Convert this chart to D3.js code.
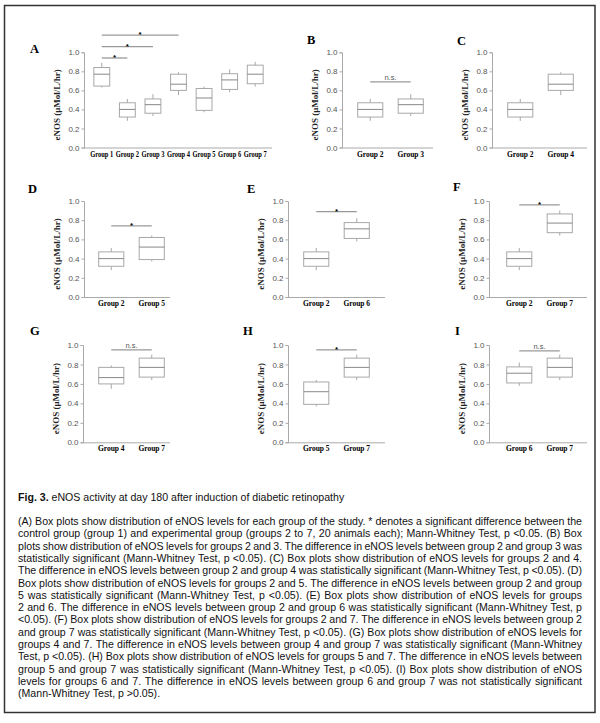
<!DOCTYPE html>
<html>
<head>
<meta charset="utf-8">
<script src="https://cdn.jsdelivr.net/npm/d3@7"></script>
<style>
  body { margin: 0; background: #fff; }
</style>
</head>
<body>
<script>

// box statistics per group
const groups      = ["Group 1", "Group 2", "Group 3", "Group 4", "Group 5", "Group 6", "Group 7"]
const whiskerLow  = [0.63, 0.28, 0.33, 0.55, 0.37, 0.58, 0.64]
const q1          = [0.645, 0.32, 0.36, 0.60, 0.39, 0.61, 0.67]
const medians     = [0.77, 0.40, 0.45, 0.665, 0.52, 0.71, 0.77]
const q3          = [0.84, 0.47, 0.51, 0.77, 0.62, 0.775, 0.865]
const whiskerHigh = [0.89, 0.51, 0.56, 0.79, 0.64, 0.82, 0.90]

const yTicks = [0, 0.2, 0.4, 0.6, 0.8, 1.0]
const yTitle = "eNOS (µMol/L/hr)"

const panelLetters = ["A", "B", "C", "D", "E", "F", "G", "H", "I"]
const panelGroups = [
    groups,
    ["Group 2", "Group 3"],
    ["Group 2", "Group 4"],
    ["Group 2", "Group 5"],
    ["Group 2", "Group 6"],
    ["Group 2", "Group 7"],
    ["Group 4", "Group 7"],
    ["Group 5", "Group 7"],
    ["Group 6", "Group 7"]
]
// [from, to, level, mark]
const panelTests = [
    [["Group 1", "Group 2", 0.94, "*"], ["Group 1", "Group 3", 1.06, "*"], ["Group 1", "Group 4", 1.18, "*"]],
    [["Group 2", "Group 3", 0.69, "n.s."]],
    [],
    [["Group 2", "Group 5", 0.74, "*"]],
    [["Group 2", "Group 6", 0.89, "*"]],
    [["Group 2", "Group 7", 0.96, "*"]],
    [["Group 4", "Group 7", 0.95, "n.s."]],
    [["Group 5", "Group 7", 0.95, "*"]],
    [["Group 6", "Group 7", 0.94, "n.s."]]
]

const captionTitle = ["Fig. 3.", " eNOS activity at day 180 after induction of diabetic retinopathy"]
const captionLines = [
    "(A) Box plots show distribution of eNOS levels for each group of the study. * denotes a significant difference between the",
    "control group (group 1) and experimental group (groups 2 to 7, 20 animals each); Mann-Whitney Test, p <0.05. (B) Box",
    "plots show distribution of eNOS levels for groups 2 and 3. The difference in eNOS levels between group 2 and group 3 was",
    "statistically significant (Mann-Whitney Test, p <0.05). (C) Box plots show distribution of eNOS levels for groups 2 and 4.",
    "The difference in eNOS levels between group 2 and group 4 was statistically significant (Mann-Whitney Test, p <0.05). (D)",
    "Box plots show distribution of eNOS levels for groups 2 and 5. The difference in eNOS levels between group 2 and group",
    "5 was statistically significant (Mann-Whitney Test, p <0.05).  (E) Box plots show distribution of eNOS levels for groups",
    "2 and 6. The difference in eNOS levels between group 2 and group 6 was statistically significant (Mann-Whitney Test, p",
    "<0.05). (F) Box plots show distribution of eNOS levels for groups 2 and 7. The difference in eNOS levels between group 2",
    "and group 7 was statistically significant (Mann-Whitney Test, p <0.05). (G) Box plots show distribution of eNOS levels for",
    "groups 4 and 7. The difference in eNOS levels between group 4 and group 7 was statistically significant (Mann-Whitney",
    "Test, p <0.05). (H) Box plots show distribution of eNOS levels for groups 5 and 7. The difference in eNOS levels between",
    "group 5 and group 7 was statistically significant (Mann-Whitney Test, p <0.05). (I) Box plots show distribution of eNOS",
    "levels for groups 6 and 7. The difference in eNOS levels between group 6 and group 7 was not statistically significant",
    "(Mann-Whitney Test, p >0.05)."
]

// layout of the nine panels
const rows = [
    { top: 52.3, bottom: 147.5 },
    { top: 201, bottom: 297 },
    { top: 345, bottom: 442.3 }
]
const layout = [
    { row: 0, axis: 84,  band: [89, 268],  end: 272, lx: 30,  ly: 52.7 },
    { row: 0, axis: 342, band: [350, 431], end: 433, lx: 307, ly: 44 },
    { row: 0, axis: 492, band: [500, 581], end: 587, lx: 457, ly: 45 },
    { row: 1, axis: 84,  band: [91, 172],  end: 170, lx: 28,  ly: 193 },
    { row: 1, axis: 288, band: [296, 377], end: 385, lx: 247, ly: 193 },
    { row: 1, axis: 489, band: [499, 580], end: 587, lx: 453, ly: 191 },
    { row: 2, axis: 83,  band: [91, 172],  end: 170, lx: 30,  ly: 335 },
    { row: 2, axis: 288, band: [296, 377], end: 385, lx: 243, ly: 335 },
    { row: 2, axis: 489, band: [499, 580], end: 587, lx: 455, ly: 335 }
]

const W = 600, H = 723
const serif = "'Liberation Serif', 'Times New Roman', serif"
const sans = "'Liberation Sans', Arial, sans-serif"

const svg = d3.select("body").append("svg")
    .attr("width", W)
    .attr("height", H)

// frame
svg.append("rect")
    .attr("x", 4.5).attr("y", 5.5)
    .attr("width", 590.5).attr("height", 707)
    .attr("fill", "none")
    .attr("stroke", "#333")
    .attr("stroke-width", 1.5)

panelLetters.forEach(function(letter, i) {
    const L = layout[i]
    const r = rows[L.row]
    const g = svg.append("g")

    const y = d3.scaleLinear().domain([0, 1]).range([r.bottom, r.top])
    const x = d3.scaleBand().domain(panelGroups[i]).range(L.band)
    const bw = x.bandwidth() * 0.62
    const crowded = panelGroups[i].length > 2

    // panel letter
    g.append("text")
        .attr("x", L.lx).attr("y", L.ly)
        .attr("font-family", serif)
        .attr("font-weight", "bold")
        .attr("font-size", 12.5)
        .text(letter)

    // y axis
    const yAxis = g.append("g")
        .attr("transform", `translate(${L.axis},0)`)
        .call(d3.axisLeft(y).tickValues(yTicks).tickFormat(d3.format(".1f")).tickSize(2.5).tickPadding(2))
    yAxis.select(".domain").attr("stroke", "#aaa")
    yAxis.selectAll(".tick line").attr("stroke", "#aaa")
    yAxis.selectAll(".tick text")
        .attr("font-family", sans)
        .attr("font-size", 8)
        .attr("fill", "#555")

    // x axis line
    g.append("line")
        .attr("x1", L.axis).attr("x2", L.end)
        .attr("y1", r.bottom + 0.5).attr("y2", r.bottom + 0.5)
        .attr("stroke", "#aaa")

    // group labels
    const glab = g.selectAll(".glab")
        .data(panelGroups[i])
        .enter()
        .append("text")
            .attr("x", d => x(d) + x.bandwidth() / 2)
            .attr("y", r.bottom + 9)
            .attr("text-anchor", "middle")
            .attr("font-family", serif)
            .attr("font-weight", "bold")
            .attr("font-size", crowded ? 7.2 : 7.5)
            .text(d => d)
    if (crowded) {
        glab.attr("textLength", x.bandwidth() - 2.5)
            .attr("lengthAdjust", "spacingAndGlyphs")
    }

    // y title
    g.append("text")
        .attr("transform", `translate(${L.axis - 24},${(r.top + r.bottom) / 2 + 5}) rotate(-90)`)
        .attr("text-anchor", "middle")
        .attr("font-family", serif)
        .attr("font-weight", "bold")
        .attr("font-size", 9)
        .attr("fill", "#222")
        .text(yTitle)

    // boxes
    const boxes = g.selectAll(".box")
        .data(panelGroups[i])
        .enter()
        .append("g")
    boxes.append("line")
        .attr("x1", d => x(d) + x.bandwidth() / 2)
        .attr("x2", d => x(d) + x.bandwidth() / 2)
        .attr("y1", d => y(whiskerHigh[groups.indexOf(d)]))
        .attr("y2", d => y(whiskerLow[groups.indexOf(d)]))
        .attr("stroke", "#a8a8a8")
    boxes.append("rect")
        .attr("x", d => x(d) + (x.bandwidth() - bw) / 2)
        .attr("width", bw)
        .attr("y", d => y(q3[groups.indexOf(d)]))
        .attr("height", d => y(q1[groups.indexOf(d)]) - y(q3[groups.indexOf(d)]))
        .attr("fill", "#fff")
        .attr("stroke", "#a8a8a8")
    boxes.append("line")
        .attr("x1", d => x(d) + (x.bandwidth() - bw) / 2)
        .attr("x2", d => x(d) + (x.bandwidth() + bw) / 2)
        .attr("y1", d => y(medians[groups.indexOf(d)]))
        .attr("y2", d => y(medians[groups.indexOf(d)]))
        .attr("stroke", "#888")

    // significance bars
    panelTests[i].forEach(function(t) {
        const x1 = x(t[0]) + x.bandwidth() / 2
        const x2 = x(t[1]) + x.bandwidth() / 2
        g.append("line")
            .attr("x1", x1).attr("x2", x2)
            .attr("y1", y(t[2])).attr("y2", y(t[2]))
            .attr("stroke", "#999")
            .attr("stroke-width", 1.3)
        if (t[3] === "*") {
            g.append("text")
                .attr("x", (x1 + x2) / 2).attr("y", y(t[2]) + 2)
                .attr("text-anchor", "middle")
                .attr("font-family", sans)
                .attr("font-weight", "bold")
                .attr("font-size", 8)
                .text(t[3])
        } else {
            g.append("text")
                .attr("x", (x1 + x2) / 2).attr("y", y(t[2]) - 2)
                .attr("text-anchor", "middle")
                .attr("font-family", sans)
                .attr("font-size", 7.5)
                .attr("fill", "#555")
                .text(t[3])
        }
    })
})

// caption
const cap = svg.append("g")
    .attr("font-family", sans)
    .attr("font-size", 10.6)
    .attr("fill", "#111")

const title = cap.append("text").attr("x", 18).attr("y", 501)
title.append("tspan").attr("font-weight", "bold").text(captionTitle[0])
title.append("tspan").text(captionTitle[1])

const left = 18, right = 582, lh = 12.3
captionLines.forEach(function(line, i) {
    const words = line.split(/\s+/)
    const t = cap.append("text").attr("y", 525 + i * lh)
    const last = i === captionLines.length - 1
    const probe = t.text(line).node().getComputedTextLength()
    t.text(null)
    // squeeze a line that would not fit
    const k = probe > right - left - 20 && !last ? Math.min(1, (right - left - (words.length - 1) * 2.2) / (probe - (words.length - 1) * 2.9)) : 1
    const spans = words.map(w => t.append("tspan").text(w))
    const widths = spans.map(function(s) {
        const w0 = s.node().getComputedTextLength()
        if (k < 1) s.attr("textLength", w0 * k).attr("lengthAdjust", "spacingAndGlyphs")
        return w0 * k
    })
    const gap = last ? 2.9 : (right - left - d3.sum(widths)) / (words.length - 1)
    let cx = left
    spans.forEach(function(s, j) {
        s.attr("x", cx)
        cx += widths[j] + gap
    })
})

</script>
</body>
</html>
